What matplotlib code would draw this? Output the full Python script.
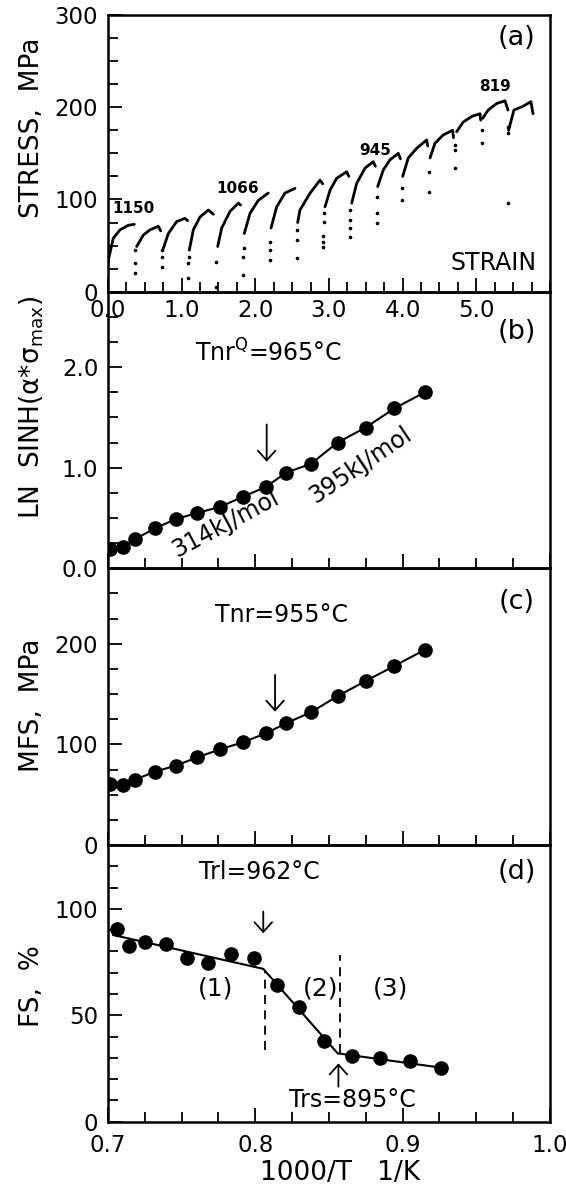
import matplotlib
matplotlib.use('Agg')
import matplotlib.pyplot as plt
from matplotlib.ticker import MultipleLocator, FixedLocator

plt.rcParams['font.family'] = ['DejaVu Sans']
plt.rcParams['mathtext.default'] = 'regular'

# ---------------- Panel (a): stress-strain curves, one list per pass ----------------
curve_strain = [
    [0.000, 0.004, 0.072, 0.163, 0.276, 0.357],
    [0.389, 0.480, 0.570, 0.683, 0.715],
    [0.751, 0.819, 0.932, 1.045, 1.081],
    [1.104, 1.158, 1.249, 1.362, 1.430],
    [1.489, 1.543, 1.656, 1.769, 1.800],
    [1.850, 1.928, 2.040, 2.176],
    [2.213, 2.290, 2.403, 2.538],
    [2.575, 2.606, 2.742, 2.878, 2.914],
    [2.946, 3.014, 3.104, 3.240, 3.270],
    [3.308, 3.376, 3.489, 3.601, 3.630],
    [3.661, 3.737, 3.828, 3.941, 3.970],
    [4.000, 4.076, 4.190, 4.326, 4.340],
    [4.371, 4.439, 4.551, 4.679, 4.690],
    [4.733, 4.823, 4.937, 5.050, 5.060],
    [5.086, 5.162, 5.276, 5.389, 5.430],
    [5.438, 5.511, 5.633, 5.741, 5.770],
]
curve_stress = [
    [28, 34, 58, 67, 72, 73],
    [49, 61.5, 67, 71, 66],
    [47, 63, 76, 79.6, 77],
    [45, 67, 81, 88.6, 84],
    [49, 69, 87, 96, 94],
    [63, 85, 99, 107],
    [69, 92, 107, 112],
    [75, 88.6, 106.7, 121, 117],
    [92, 110, 123, 130, 125],
    [96, 117.5, 134, 141, 136],
    [114, 132, 143, 150, 144],
    [125, 145, 155.5, 164.5, 158],
    [145, 161, 170, 175, 167],
    [173.5, 184, 190, 193, 186],
    [188, 197, 204, 207, 197],
    [175, 197, 201, 206, 193],
]
drop_strain = [0.367, 0.367, 0.372, 0.729, 0.729, 0.735, 1.090, 1.090, 1.095,
               1.462, 1.462, 1.837, 1.837, 1.840, 2.199, 2.199, 2.205,
               2.561, 2.561, 2.565, 2.923, 2.923, 2.923, 2.930, 2.930,
               3.285, 3.285, 3.290, 3.290, 3.647, 3.647, 3.650, 3.995, 3.995,
               4.357, 4.357, 4.710, 4.710, 4.712, 5.072, 5.072, 5.434, 5.434, 5.436]
drop_stress = [20, 31, 45, 26.5, 38, 45, 14.5, 31, 38,
               5.4, 32.5, 18, 38, 47, 34, 45, 54,
               37, 56, 67, 49, 54, 60, 76, 85,
               59, 69, 78, 89, 74, 85, 103, 99, 112,
               108, 130, 134, 154, 159, 161, 175, 96, 172, 179]
pass_temp_labels = ['1150', '1066', '945', '819']
pass_temp_x = [0.347, 1.758, 3.628, 5.249]
pass_temp_y = [89.9, 112.1, 153.6, 222.3]

# ---------------- Panels (b), (c): per-pass values vs 1000/T ----------------
inv_T = [0.7015, 0.7103, 0.7183, 0.7321, 0.7462, 0.7603, 0.7759, 0.7914,
         0.8072, 0.8208, 0.8378, 0.8558, 0.8749, 0.8944, 0.9150]
ln_sinh = [0.19, 0.21, 0.29, 0.40, 0.49, 0.55, 0.61, 0.71,
           0.81, 0.95, 1.04, 1.25, 1.40, 1.59, 1.75]
mfs = [61, 60, 65, 73, 79, 87, 95, 102, 111, 121, 132, 148, 163, 178, 194]

# ---------------- Panel (d): fractional softening ----------------
fs_x = [0.7059, 0.7143, 0.7251, 0.7392, 0.7534, 0.7681, 0.7835, 0.7993,
        0.8145, 0.8297, 0.8468, 0.8654, 0.8847, 0.9050, 0.9259]
fs_y = [90.4, 82.6, 84.6, 83.4, 76.8, 74.4, 78.7, 77.1,
        64.2, 53.8, 38.1, 31.0, 29.8, 28.7, 25.1]
fs_fit_x = [0.7036, 0.8054, 0.8559, 0.9259]
fs_fit_y = [87.7, 71.8, 32.1, 25.4]

# ---------------- figure ----------------
fig = plt.figure(figsize=(5.66, 11.93), dpi=100)
L, W, H = 0.1908, 0.7809, 0.2319
bottoms = [0.7555, 0.5236, 0.2917, 0.0598]
axes = [fig.add_axes([L, b, W, H]) for b in bottoms]
axa, axb, axc, axd = axes

TICK_FS = 16.5
LAB_FS = 19
for i, ax in enumerate(axes):
    ax.set_facecolor('none')
    ax.set_zorder(10 - i)
    for s in ax.spines.values():
        s.set_linewidth(1.8)
    ax.tick_params(which='both', direction='in', top=False, right=False,
                   width=1.3, labelsize=TICK_FS, colors='black')
    ax.tick_params(which='major', length=10)
    ax.tick_params(which='minor', length=7)
    ax.tick_params(axis='y', pad=7)

arrow_kw = dict(arrowstyle='->,head_length=0.5,head_width=0.45', lw=1.3,
                color='black', shrinkA=0, shrinkB=0, mutation_scale=14)

# ---- (a)
for xs, ys in zip(curve_strain, curve_stress):
    axa.plot(xs, ys, color='black', lw=2.0, solid_capstyle='round')
axa.plot(drop_strain, drop_stress, linestyle='none', marker='o', ms=1.6,
         color='black')
axa.set_xlim(0, 6)
axa.set_ylim(0, 300)
axa.xaxis.set_major_locator(FixedLocator([0, 1, 2, 3, 4, 5]))
axa.xaxis.set_minor_locator(MultipleLocator(0.25))
axa.set_xticklabels(['0.0', '1.0', '2.0', '3.0', '4.0', '5.0'])
axa.yaxis.set_major_locator(FixedLocator([0, 100, 200, 300]))
axa.yaxis.set_minor_locator(MultipleLocator(25))
axa.tick_params(axis='x', pad=5)
for t, x, y in zip(pass_temp_labels, pass_temp_x, pass_temp_y):
    axa.text(x, y, t, ha='center', va='center', fontsize=11, fontweight='bold')
axa.text(5.548, 275.6, '(a)', ha='center', va='center', fontsize=19.5)
axa.text(5.24, 31.4, 'STRAIN', ha='center', va='center', fontsize=17)
axa.set_ylabel('STRESS,  MPa', fontsize=LAB_FS, va='center')
axa.yaxis.set_label_coords(-0.172, 0.592)

# ---- shared x setup for (b)-(d)
for ax in (axb, axc, axd):
    ax.set_xlim(0.7, 1.0)
    ax.xaxis.set_major_locator(FixedLocator([0.7, 0.8, 0.9, 1.0]))
    ax.xaxis.set_minor_locator(MultipleLocator(0.025))
for ax in (axb, axc):
    ax.tick_params(axis='x', labelbottom=False)

# ---- (b)
axb.plot(inv_T, ln_sinh, color='black', lw=1.5, marker='o', ms=9.5)
axb.set_ylim(0, 2.75)
axb.yaxis.set_major_locator(FixedLocator([0, 1, 2]))
axb.set_yticklabels(['0.0', '1.0', '2.0'])
axb.yaxis.set_minor_locator(MultipleLocator(0.25))
axb.annotate('', xy=(0.8077, 1.06), xytext=(0.8077, 1.43), arrowprops=arrow_kw)
axb.text(0.8088, 2.14, 'Tnr$^{\\rm Q}$=965°C', ha='center', va='center', fontsize=17)
axb.text(0.7799, 0.44, '314kJ/mol', ha='center', va='center', fontsize=17,
         rotation=28, rotation_mode='anchor')
axb.text(0.8716, 1.03, '395kJ/mol', ha='center', va='center', fontsize=17,
         rotation=34, rotation_mode='anchor')
axb.text(0.9775, 2.35, '(b)', ha='center', va='center', fontsize=19.5)
axb.set_ylabel('LN  SINH($\\alpha$*$\\sigma_{max}$)', fontsize=LAB_FS, va='center')
axb.yaxis.set_label_coords(-0.172, 0.58)

# ---- (c)
axc.plot(inv_T, mfs, color='black', lw=1.5, marker='o', ms=9.5)
axc.set_ylim(0, 275)
axc.yaxis.set_major_locator(FixedLocator([0, 100, 200]))
axc.yaxis.set_minor_locator(MultipleLocator(25))
axc.annotate('', xy=(0.8134, 132.5), xytext=(0.8134, 169), arrowprops=arrow_kw)
axc.text(0.8179, 228.6, 'Tnr=955°C', ha='center', va='center', fontsize=17)
axc.text(0.9775, 241.8, '(c)', ha='center', va='center', fontsize=19.5)
axc.set_ylabel('MFS,  MPa', fontsize=LAB_FS, va='center')
axc.yaxis.set_label_coords(-0.172, 0.506)

# ---- (d)
axd.plot(fs_fit_x, fs_fit_y, color='black', lw=1.5)
axd.plot(fs_x, fs_y, linestyle='none', marker='o', ms=9.5, color='black')
axd.plot([0.8066, 0.8066], [33.7, 71.3], color='black', lw=1.3, dashes=(5, 3.5))
axd.plot([0.8575, 0.8575], [32.2, 78.3], color='black', lw=1.3, dashes=(5, 3.5))
axd.annotate('', xy=(0.8054, 88.5), xytext=(0.8054, 98.7), arrowprops=arrow_kw)
axd.annotate('', xy=(0.8564, 27.4), xytext=(0.8564, 16.4), arrowprops=arrow_kw)
axd.text(0.8026, 117.1, 'Trl=962°C', ha='center', va='center', fontsize=17)
axd.text(0.866, 10.2, 'Trs=895°C', ha='center', va='center', fontsize=17)
axd.text(0.7732, 62.4, '(1)', ha='center', va='center', fontsize=18)
axd.text(0.8445, 62.4, '(2)', ha='center', va='center', fontsize=18)
axd.text(0.892, 62.4, '(3)', ha='center', va='center', fontsize=18)
axd.text(0.9775, 117.5, '(d)', ha='center', va='center', fontsize=19.5)
axd.set_ylim(0, 130)
axd.yaxis.set_major_locator(FixedLocator([0, 50, 100]))
axd.yaxis.set_minor_locator(MultipleLocator(10))
axd.set_xticklabels(['0.7', '0.8', '0.9', '1.0'])
axd.tick_params(axis='x', pad=9)
axd.set_ylabel('FS,  %', fontsize=LAB_FS, va='center')
axd.yaxis.set_label_coords(-0.172, 0.49)
axd.set_xlabel('1000/T   1/K', fontsize=LAB_FS)
axd.xaxis.set_label_coords(0.525, -0.14)

fig.savefig('out.png', dpi=100, facecolor='white')
